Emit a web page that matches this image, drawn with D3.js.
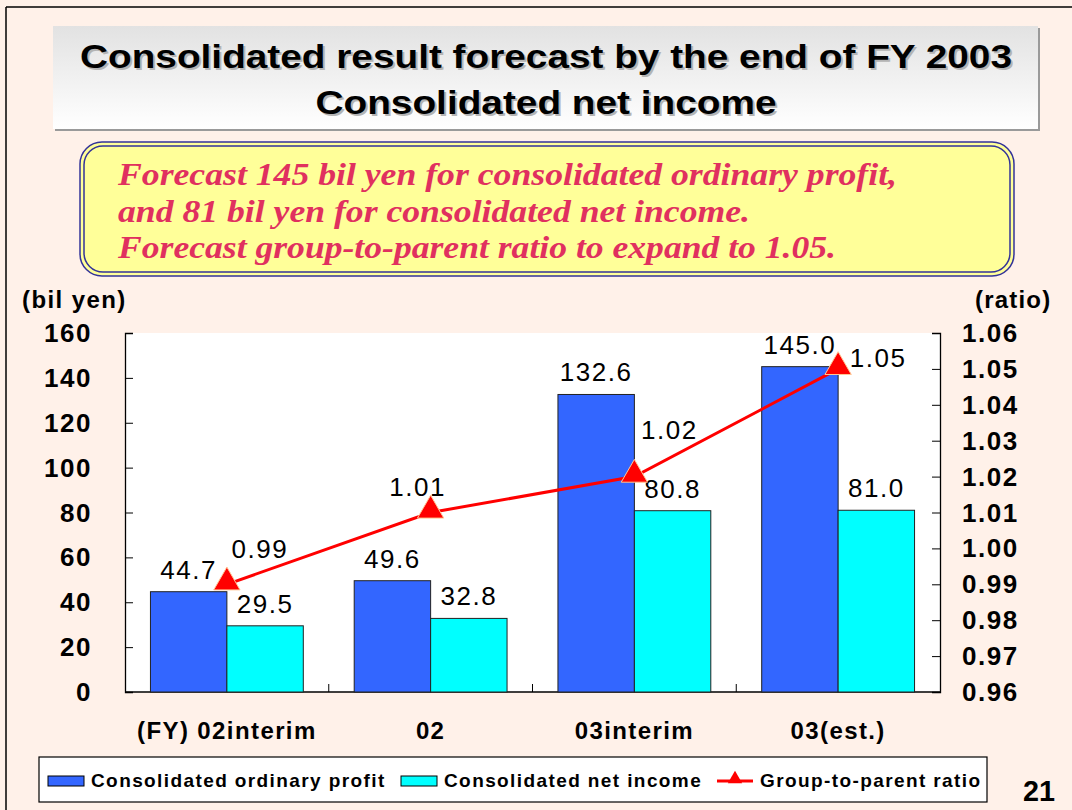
<!DOCTYPE html>
<html>
<head>
<meta charset="utf-8">
<script src="https://cdn.jsdelivr.net/npm/d3@7"></script>
<style>
  body { margin: 0; background: #fff1e9; }
  svg { display: block; }
</style>
</head>
<body>
<svg id="chart" width="1072" height="810" font-family="'Liberation Sans', Arial, sans-serif"></svg>
<script>
// data
const categories = ['(FY) 02interim', '02', '03interim', '03(est.)'];
const ordinaryProfit = [44.7, 49.6, 132.6, 145.0];
const netIncome = [29.5, 32.8, 80.8, 81.0];
const ratio = [0.99, 1.01, 1.02, 1.05];
const leftTicks = [0, 20, 40, 60, 80, 100, 120, 140, 160];
const rightTicks = [0.96, 0.97, 0.98, 0.99, 1.00, 1.01, 1.02, 1.03, 1.04, 1.05, 1.06];
const seriesNames = ['Consolidated ordinary profit', 'Consolidated net income', 'Group-to-parent ratio'];
const titleLines = ['Consolidated result forecast by the end of FY 2003', 'Consolidated net income'];
const calloutLines = [
  'Forecast 145 bil yen for consolidated ordinary profit,',
  'and 81 bil yen for consolidated net income.',
  'Forecast group-to-parent ratio to expand to 1.05.'
];

const svg = d3.select('#chart');
const blue = '#3366ff', cyan = '#00ffff', red = '#ff0000';

// page frame
svg.append('rect').attr('width', 1072).attr('height', 810).attr('fill', '#fff1e9');
svg.append('line').attr('x1', 6).attr('x2', 1072).attr('y1', 7).attr('y2', 7).attr('stroke', '#000').attr('stroke-width', 1.5);
svg.append('line').attr('x1', 6).attr('x2', 6).attr('y1', 7).attr('y2', 810).attr('stroke', '#000').attr('stroke-width', 1.5);

// title box
let defs = svg.append('defs');
let g = defs.append('linearGradient').attr('id', 'tgrad').attr('x1', 0).attr('x2', 0).attr('y1', 0).attr('y2', 1);
g.append('stop').attr('offset', '0%').attr('stop-color', '#e2e2e2');
g.append('stop').attr('offset', '100%').attr('stop-color', '#ffffff');
svg.append('rect').attr('x', 55).attr('y', 28).attr('width', 985).attr('height', 103).attr('fill', '#9a9a9a');
svg.append('rect').attr('x', 53).attr('y', 26).attr('width', 985).attr('height', 103).attr('fill', 'url(#tgrad)');
const titleWidths = [932, 461];
titleLines.forEach((t, i) => {
  const y = 68 + i * 46;
  svg.append('text').attr('x', 548).attr('y', y + 2).attr('text-anchor', 'middle')
    .attr('font-size', 34).attr('font-weight', 'bold').attr('fill', '#b4b4b4')
    .attr('textLength', titleWidths[i]).attr('lengthAdjust', 'spacingAndGlyphs').text(t);
  svg.append('text').attr('x', 546).attr('y', y).attr('text-anchor', 'middle')
    .attr('font-size', 34).attr('font-weight', 'bold').attr('fill', '#000')
    .attr('textLength', titleWidths[i]).attr('lengthAdjust', 'spacingAndGlyphs').text(t);
});

// callout box
svg.append('rect').attr('x', 80).attr('y', 142).attr('width', 934).attr('height', 134).attr('rx', 22)
  .attr('fill', '#ffff99').attr('stroke', '#333399').attr('stroke-width', 1.5);
svg.append('rect').attr('x', 84).attr('y', 146).attr('width', 926).attr('height', 126).attr('rx', 19)
  .attr('fill', 'none').attr('stroke', '#333399').attr('stroke-width', 1.5);
const calloutWidths = [779, 632, 718];
calloutLines.forEach((t, i) => {
  svg.append('text').attr('x', 118).attr('y', 185 + i * 36.5)
    .attr('font-family', "'Liberation Serif', 'Times New Roman', serif")
    .attr('font-style', 'italic').attr('font-weight', 'bold').attr('font-size', 31)
    .attr('fill', '#e0305f').attr('textLength', calloutWidths[i]).attr('lengthAdjust', 'spacingAndGlyphs')
    .text(t);
});

// plot
const L = 125, R = 940, T = 333, B = 692;
const x = d3.scaleBand().domain(categories).range([L, R]).paddingInner(0).paddingOuter(0);
const sub = d3.scaleBand().domain([0, 1]).range([0, x.bandwidth()]).paddingOuter(0.333).paddingInner(0);
const yL = d3.scaleLinear().domain([0, 160]).range([B, T]);
const yR = d3.scaleLinear().domain([0.96, 1.06]).range([B, T]);

svg.append('rect').attr('x', L).attr('y', T).attr('width', R - L).attr('height', B - T).attr('fill', '#fff');

// axes
const axL = svg.append('g').attr('transform', `translate(${L},0)`)
  .call(d3.axisRight(yL).tickValues(leftTicks).tickSize(8).tickFormat(''));
const axR = svg.append('g').attr('transform', `translate(${R},0)`)
  .call(d3.axisLeft(yR).tickValues(rightTicks).tickSize(8).tickFormat(''));
const axB = svg.append('g').attr('transform', `translate(0,${B})`)
  .call(d3.axisTop(x).tickSize(0).tickFormat(''));
[axL, axR, axB].forEach(a => {
  a.selectAll('path').attr('stroke', '#000').attr('stroke-width', 1.3);
  a.selectAll('line').attr('stroke', '#000').attr('stroke-width', 1);
});
axB.select('.domain').attr('d', `M${L},0H${R}`);
// category separators on x axis
svg.selectAll('.sep').data(categories.slice(1)).enter().append('line')
  .attr('x1', d => x(d)).attr('x2', d => x(d)).attr('y1', B).attr('y2', B - 8)
  .attr('stroke', '#000');

svg.selectAll('.ltick').data(leftTicks).enter().append('text')
  .attr('x', 92).attr('y', d => yL(d) + 9).attr('text-anchor', 'end')
  .attr('font-size', 26).attr('font-weight', 'bold').attr('letter-spacing', 1.5).text(d => d);
svg.selectAll('.rtick').data(rightTicks).enter().append('text')
  .attr('x', 962).attr('y', d => yR(d) + 9)
  .attr('font-size', 26).attr('font-weight', 'bold').attr('letter-spacing', 1.5).text(d => d.toFixed(2));
svg.append('text').attr('x', 22).attr('y', 308).attr('font-size', 24).attr('font-weight', 'bold')
  .attr('letter-spacing', 1.4).text('(bil yen)');
svg.append('text').attr('x', 975).attr('y', 308).attr('font-size', 24).attr('font-weight', 'bold')
  .attr('letter-spacing', 1.2).text('(ratio)');

svg.selectAll('.xlab').data(categories).enter().append('text')
  .attr('x', d => x(d) + x.bandwidth() / 2).attr('y', 739).attr('text-anchor', 'middle')
  .attr('font-size', 24).attr('font-weight', 'bold').attr('letter-spacing', 1.4).text(d => d);

// bars
const series = [ordinaryProfit, netIncome];
const colors = [blue, cyan];
series.forEach((vals, s) => {
  svg.selectAll('.bar' + s).data(vals).enter().append('rect')
    .attr('x', (d, i) => x(categories[i]) + sub(s))
    .attr('y', d => yL(d))
    .attr('width', sub.bandwidth())
    .attr('height', d => B - yL(d))
    .attr('fill', colors[s]).attr('stroke', '#222').attr('stroke-width', 1);
  svg.selectAll('.blab' + s).data(vals).enter().append('text')
    .attr('x', (d, i) => x(categories[i]) + sub(s) + sub.bandwidth() / 2)
    .attr('y', d => yL(d) - 13).attr('text-anchor', 'middle')
    .attr('font-size', 26).attr('letter-spacing', 1.5).text(d => d.toFixed(1));
});

// ratio line
const cx = i => x(categories[i]) + x.bandwidth() / 2;
svg.append('path').datum(ratio)
  .attr('d', d3.line().x((d, i) => cx(i)).y(d => yR(d)))
  .attr('fill', 'none').attr('stroke', red).attr('stroke-width', 3);
const tri = d3.symbol().type(d3.symbolTriangle).size(300);
svg.selectAll('.mk').data(ratio).enter().append('path')
  .attr('d', tri).attr('transform', (d, i) => `translate(${cx(i)},${yR(d) - 2})`)
  .attr('fill', red).attr('stroke', '#ffc896').attr('stroke-width', 1);
const ratioLabelOffset = [[33, -26], [-13, -17], [35, -38], [40, -2]];
svg.selectAll('.rlab').data(ratio).enter().append('text')
  .attr('x', (d, i) => cx(i) + ratioLabelOffset[i][0])
  .attr('y', (d, i) => yR(d) + ratioLabelOffset[i][1])
  .attr('text-anchor', 'middle').attr('font-size', 26).attr('letter-spacing', 1.5).text(d => d.toFixed(2));

// legend
svg.append('rect').attr('x', 39).attr('y', 757).attr('width', 948).attr('height', 45)
  .attr('fill', '#fff').attr('stroke', '#000').attr('stroke-width', 1.2);
const legX = [48, 401, 717];
[0, 1].forEach(s => {
  svg.append('rect').attr('x', legX[s]).attr('y', 776).attr('width', 36).attr('height', 10)
    .attr('fill', colors[s]).attr('stroke', '#000');
});
svg.append('line').attr('x1', legX[2]).attr('x2', legX[2] + 36).attr('y1', 781).attr('y2', 781)
  .attr('stroke', red).attr('stroke-width', 3);
svg.append('path').attr('d', d3.symbol().type(d3.symbolTriangle).size(90))
  .attr('transform', `translate(${legX[2] + 18},779)`).attr('fill', red);
const legTextX = [91, 444, 760];
seriesNames.forEach((n, i) => {
  svg.append('text').attr('x', legTextX[i]).attr('y', 787).attr('font-size', 19)
    .attr('font-weight', 'bold').attr('letter-spacing', 1.4).text(n);
});

svg.append('text').attr('x', 1023).attr('y', 801).attr('font-size', 30).attr('font-weight', 'bold')
  .attr('textLength', 32).attr('lengthAdjust', 'spacingAndGlyphs').text('21');
</script>
</body>
</html>
